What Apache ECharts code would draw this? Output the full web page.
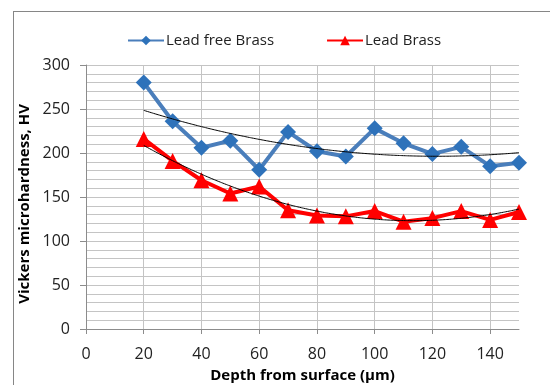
<!DOCTYPE html>
<html>
<head>
<meta charset="utf-8">
<script src="https://cdn.jsdelivr.net/npm/echarts@6/dist/echarts.min.js"></script>
<style>
  html, body { margin: 0; padding: 0; background: #fff; }
  #main { width: 550px; height: 385px; }
  .frame { position: absolute; left: 13px; top: 11px; width: 560px; height: 400px; border: 1.5px solid #868686; box-sizing: border-box; pointer-events: none; }
</style>
</head>
<body>
<div id="main"></div>
<div class="frame"></div>
<script>
  // depth (µm)
  const depth = [20, 30, 40, 50, 60, 70, 80, 90, 100, 110, 120, 130, 140, 150]
  const leadFree = [280, 236, 206, 214, 181, 224, 202, 196, 228, 211, 199, 207, 185, 189]
  const lead = [216, 191, 169, 154, 162, 135, 129, 128, 134, 122, 126, 134, 124, 133]
  const xTicks = [0, 20, 40, 60, 80, 100, 120, 140]

  // 2nd order polynomial trendline (least squares), like Excel
  function polyFit(xs, ys) {
    let n = xs.length, s = [0, 0, 0, 0, 0], t = [0, 0, 0]
    for (let i = 0; i < n; i++) {
      let p = 1
      for (let k = 0; k < 5; k++) { s[k] += p; if (k < 3) t[k] += p * ys[i]; p *= xs[i] }
    }
    let m = [[s[0], s[1], s[2], t[0]], [s[1], s[2], s[3], t[1]], [s[2], s[3], s[4], t[2]]]
    for (let i = 0; i < 3; i++) {
      for (let j = i + 1; j < 3; j++) {
        let f = m[j][i] / m[i][i]
        for (let k = i; k < 4; k++) m[j][k] -= f * m[i][k]
      }
    }
    let c = [0, 0, 0]
    for (let i = 2; i >= 0; i--) {
      let v = m[i][3]
      for (let k = i + 1; k < 3; k++) v -= m[i][k] * c[k]
      c[i] = v / m[i][i]
    }
    let out = []
    for (let x = xs[0]; x <= xs[xs.length - 1]; x += 2) out.push([x, c[0] + c[1] * x + c[2] * x * x])
    return out
  }

  const font = 'Open Sans'
  const chart = echarts.init(document.getElementById('main'))
  const option = {
    animation: false,
    textStyle: { fontFamily: font },
    legend: {
      data: ['Lead free Brass', 'Lead Brass'],
      top: 28,
      left: 122,
      itemGap: 52,
      itemWidth: 36,
      itemHeight: 12,
      textStyle: { fontSize: 15, color: '#222', fontFamily: font, padding: [0, 0, 0, -3] }
    },
    graphic: [{
      type: 'text',
      left: 17,
      top: 104,
      rotation: Math.PI / 2,
      style: {
        text: 'Vickers microhardness, HV',
        font: 'bold 15px "Open Sans"',
        fill: '#000'
      }
    }],
    grid: { left: 86, right: 31, top: 65, bottom: 56, containLabel: false, outerBoundsMode: 'none' },
    xAxis: {
      type: 'value',
      min: 0,
      max: 150,
      interval: 4,
      name: 'Depth from surface (µm)',
      nameLocation: 'middle',
      nameGap: 39,
      nameTextStyle: { fontSize: 15, fontWeight: 'bold', color: '#000', fontFamily: font },
      axisLine: { lineStyle: { color: '#8c8c8c' } },
      axisTick: { show: true, length: 5, customValues: xTicks, lineStyle: { color: '#8c8c8c' } },
      axisLabel: { customValues: xTicks, fontSize: 16, color: '#222', margin: 17 },
      splitLine: { show: true, lineStyle: { color: '#c4c4c4' } }
    },
    yAxis: {
      type: 'value',
      min: 0,
      max: 300,
      interval: 50,
      axisLine: { show: true, lineStyle: { color: '#8c8c8c' } },
      axisTick: { show: true, length: 6, lineStyle: { color: '#8c8c8c' } },
      axisLabel: { fontSize: 16, color: '#222', margin: 16 },
      splitLine: { show: true, lineStyle: { color: '#c4c4c4' } },
      minorSplitLine: { show: true, lineStyle: { color: '#c4c4c4' } },
      minorTick: { show: false, splitNumber: 5 }
    },
    series: [
      {
        name: 'Lead free Brass trend',
        type: 'line',
        data: polyFit(depth, leadFree),
        smooth: true,
        symbol: 'none',
        silent: true,
        lineStyle: { color: '#000', width: 1 },
        z: 5
      },
      {
        name: 'Lead Brass trend',
        type: 'line',
        data: polyFit(depth, lead),
        smooth: true,
        symbol: 'none',
        silent: true,
        lineStyle: { color: '#000', width: 1 },
        z: 5
      },
      {
        name: 'Lead free Brass',
        type: 'line',
        data: depth.map((d, i) => [d, leadFree[i]]),
        symbol: 'diamond',
        symbolSize: 16,
        lineStyle: { color: '#4A7EBB', width: 4 },
        itemStyle: { color: '#2E72BA' },
        z: 3
      },
      {
        name: 'Lead Brass',
        type: 'line',
        data: depth.map((d, i) => [d, lead[i]]),
        symbol: 'triangle',
        symbolSize: 16,
        lineStyle: { color: '#FF0000', width: 4 },
        itemStyle: { color: '#FF0000' },
        z: 3
      }
    ]
  }
  chart.setOption(option)
</script>
</body>
</html>
